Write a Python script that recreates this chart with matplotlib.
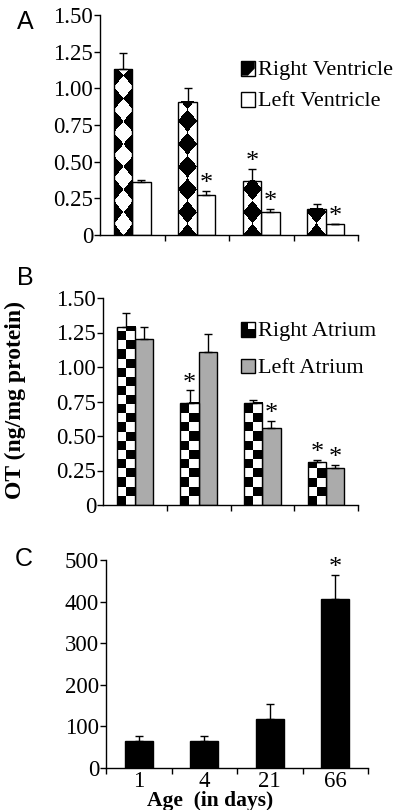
import numpy as np
import matplotlib.pyplot as plt
from matplotlib.patches import Rectangle

plt.rcParams['font.family'] = ['Liberation Serif', 'DejaVu Serif']

# data
ages = ['1', '4', '21', '66']

rv = [1.13, 0.91, 0.37, 0.18]
rv_err = [0.11, 0.09, 0.08, 0.03]
rv_sig = [0, 0, 1, 0]
lv = [0.36, 0.27, 0.16, 0.075]
lv_err = [0.015, 0.03, 0.02, 0.0]
lv_sig = [0, 1, 1, 1]

ra = [1.29, 0.74, 0.74, 0.31]
ra_err = [0.10, 0.09, 0.02, 0.015]
ra_sig = [0, 1, 0, 1]
la = [1.20, 1.11, 0.56, 0.27]
la_err = [0.09, 0.13, 0.05, 0.02]
la_sig = [0, 0, 1, 1]

heart = [64, 64, 118, 406]
heart_err = [12, 12, 36, 58]
heart_sig = [0, 0, 0, 1]

yticks_ab = [0, 0.25, 0.5, 0.75, 1.0, 1.25, 1.5]
ylabels_ab = ['0', '0.25', '0.50', '0.75', '1.00', '1.25', '1.50']
yticks_c = [0, 100, 200, 300, 400, 500]
ylabels_c = ['0', '100', '200', '300', '400', '500']

W, H = 408, 810
fig = plt.figure(figsize=(W / 100, H / 100), dpi=100)


def px_axes(left, right, top, bottom):
    return fig.add_axes([left / W, 1 - bottom / H, (right - left) / W, (bottom - top) / H])


axA = px_axes(100, 358, 15, 235)
axB = px_axes(103, 358, 298, 505)
axC = px_axes(106, 368, 560, 768)

x = np.arange(len(ages))
bw = 0.285
TICK = 16.5


def pattern_fill(ax, bars, kind, cell_h):
    for i, b in enumerate(bars):
        x0, w, h = b.get_x(), b.get_width(), b.get_height()
        nx, ny = 80, max(4, int(h / cell_h * 40))
        xs = (np.arange(nx) + 0.5) / nx * w
        ys = (np.arange(ny) + 0.5) / ny * h
        X, Y = np.meshgrid(xs, ys)
        if kind == 'diamond':
            shift = 0.5 * w if i == 0 else 0.0
            u = (X + shift) / w + Y / cell_h
            v = (X + shift) / w - Y / cell_h
            img = (np.floor(u) + np.floor(v)) % 2
        else:
            img = (np.floor(X / (w / 2)) + np.floor(Y / cell_h)) % 2
        ax.imshow(img, cmap='gray', vmin=0, vmax=1, extent=[x0, x0 + w, 0, h],
                  origin='lower', aspect='auto', interpolation='nearest',
                  clip_path=b, zorder=2.1)
        b.set_facecolor('none')
        b.set_zorder(2.2)


def bars_with_err(ax, pos, vals, errs, sig, width, color):
    bars = ax.bar(pos, vals, width, color=color, edgecolor='black', linewidth=1.0, zorder=2)
    ax.errorbar(pos, vals, yerr=[np.zeros(len(vals)), errs], fmt='none', ecolor='black',
                elinewidth=1.0, capsize=2.8, capthick=1.0, zorder=3)
    for p, v, e, s in zip(pos, vals, errs, sig):
        if s:
            ax.annotate('*', (p, v + e), xytext=(0, -3), textcoords='offset points',
                        ha='center', va='bottom', fontsize=19)
    return bars


class Key:
    def __init__(self, kind):
        self.kind = kind

    def legend_artist(self, legend, orig_handle, fontsize, handlebox):
        x0, y0 = handlebox.xdescent, handlebox.ydescent
        w, h = handlebox.width, handlebox.height
        tr = handlebox.get_transform()
        fc = {'gray': '#ababab'}.get(self.kind, 'white')
        handlebox.add_artist(Rectangle((x0, y0), w, h, facecolor=fc, edgecolor='none', transform=tr))
        if self.kind == 'diamond':
            handlebox.add_artist(plt.Polygon([(x0, y0), (x0, y0 + h), (x0 + w, y0 + h),
                                              (x0 + w, y0 + 0.5 * h), (x0 + 0.5 * w, y0)],
                                             facecolor='black', edgecolor='none', transform=tr))
        elif self.kind == 'checker':
            for (cx, cy) in [(0, 1), (0, 0), (1, 0)]:
                handlebox.add_artist(Rectangle((x0 + cx * w / 2, y0 + cy * h / 2), w / 2, h / 2,
                                               facecolor='black', edgecolor='none', transform=tr))
        box = Rectangle((x0, y0), w, h, facecolor='none', edgecolor='black', lw=1.0, transform=tr)
        handlebox.add_artist(box)
        return box


# panel A
b1 = bars_with_err(axA, x - bw / 2, rv, rv_err, rv_sig, bw, 'white')
bars_with_err(axA, x + bw / 2, lv, lv_err, lv_sig, bw, 'white')
pattern_fill(axA, b1, 'diamond', 0.155)

# panel B
b2 = bars_with_err(axB, x - bw / 2, ra, ra_err, ra_sig, bw, 'white')
bars_with_err(axB, x + bw / 2, la, la_err, la_sig, bw, '#ababab')
pattern_fill(axB, b2, 'checker', 0.066)

# panel C
bars_with_err(axC, x, heart, heart_err, heart_sig, 0.43, 'black')

for ax, yt, yl, top in [(axA, yticks_ab, ylabels_ab, 1.5), (axB, yticks_ab, ylabels_ab, 1.5),
                        (axC, yticks_c, ylabels_c, 500)]:
    ax.set_xlim(-0.5, 3.5)
    ax.set_ylim(0, top)
    ax.set_yticks(yt)
    ax.set_yticklabels(yl)
    for s in ['top', 'right']:
        ax.spines[s].set_visible(False)
    for s in ['left', 'bottom']:
        ax.spines[s].set_linewidth(1.0)
    ax.tick_params(axis='y', direction='out', length=4, width=1.0, pad=1, labelsize=TICK)
    ax.tick_params(axis='x', which='major', direction='out', length=4, width=1.0)

axA.set_xticks([0.5, 1.5, 2.5, 3.5])
axB.set_xticks([0.5, 1.5, 2.5, 3.5])
for ax in [axA, axB]:
    ax.set_xticklabels([])
axC.set_xticks([-0.5, 0.5, 1.5, 2.5, 3.5])
axC.set_xticklabels([])
axC.set_xticks(x, minor=True)
axC.set_xticklabels(ages, minor=True)
axC.tick_params(axis='x', which='minor', length=0, pad=2, labelsize=TICK)

hA = [Rectangle((0, 0), 1, 1), Rectangle((0, 0), 1, 1)]
axA.legend(hA, ['Right Ventricle', 'Left Ventricle'], loc='upper left',
           bbox_to_anchor=((241 - 100) / 258, (235 - 60) / 220), frameon=False,
           fontsize=16, handlelength=0.62, handleheight=0.62, handletextpad=0.15,
           labelspacing=0.5, borderpad=0, borderaxespad=0,
           handler_map={hA[0]: Key('diamond'), hA[1]: Key('white')})

hB = [Rectangle((0, 0), 1, 1), Rectangle((0, 0), 1, 1)]
axB.legend(hB, ['Right Atrium', 'Left Atrium'], loc='upper left',
           bbox_to_anchor=((241 - 103) / 255, (505 - 321) / 207), frameon=False,
           fontsize=16, handlelength=0.62, handleheight=0.62, handletextpad=0.15,
           labelspacing=0.75, borderpad=0, borderaxespad=0,
           handler_map={hB[0]: Key('checker'), hB[1]: Key('gray')})

fig.text(15 / W, 1 - 400 / H, 'OT (ng/mg protein)', rotation=90, ha='center', va='center',
         fontsize=17, fontweight='bold')
fig.text(210 / W, 1 - 801 / H, 'Age  (in days)', ha='center', va='center',
         fontsize=15.5, fontweight='bold')

for letter, lx, ly in [('A', 25, 22), ('B', 25, 278), ('C', 24, 559)]:
    fig.text(lx / W, 1 - ly / H, letter, ha='center', va='center', fontsize=18,
             family=['Liberation Sans', 'DejaVu Sans'])

fig.savefig('out.png', dpi=100)
